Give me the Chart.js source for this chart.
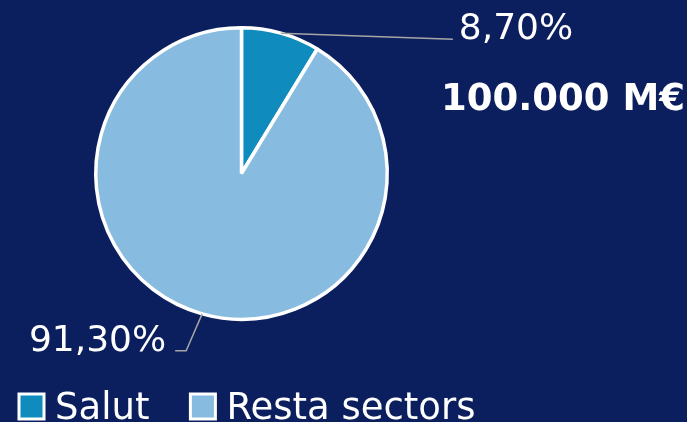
<!DOCTYPE html>
<html>
<head>
<meta charset="utf-8">
<script src="https://cdn.jsdelivr.net/npm/chart.js@4"></script>
<style>
  html, body { margin: 0; padding: 0; background: #0b1f5e; }
  #wrap { width: 687px; height: 422px; position: relative; }
</style>
</head>
<body>
<div id="wrap"><canvas id="chart_salutPie"></canvas></div>
<script>
var categories = ['Salut', 'Resta sectors'];
var shares = [8.70, 91.30];
var shareLabels = ['8,70%', '91,30%'];
var totalLabel = '100.000 M€';
var sliceColours = ['#0f8bbd', '#88bbe0'];

var FONT = '"DejaVu Sans", sans-serif';

var chart_salutPie = new Chart(document.getElementById('chart_salutPie'), {
    type: 'pie',
    data: {
        labels: categories,
        datasets: [{
            data: shares,
            backgroundColor: sliceColours,
            borderColor: '#ffffff',
            borderWidth: 3.5
        }]
    },
    options: {
        animation: false,
        responsive: true,
        maintainAspectRatio: false,
        layout: {
            padding: { left: 94, right: 298, top: 26, bottom: 101 }
        },
        plugins: {
            legend: { display: false },
            tooltip: { enabled: false }
        }
    },
    plugins: [{
        id: 'customPlugin',
        beforeDraw: (chart) => {
            const ctx = chart.ctx;
            ctx.save();
            ctx.fillStyle = '#0b1f5e';
            ctx.fillRect(0, 0, chart.width, chart.height);
            ctx.restore();
        },
        afterDraw: (chart) => {
            const ctx = chart.ctx;
            const arcs = chart.getDatasetMeta(0).data;
            ctx.save();
            ctx.font = '36px ' + FONT;
            ctx.fillStyle = '#ffffff';
            ctx.textBaseline = 'alphabetic';
            arcs.forEach((arc, i) => {
                const mid = (arc.startAngle + arc.endAngle) / 2;
                const r = arc.outerRadius;
                const ex = arc.x + Math.cos(mid) * r;
                const ey = arc.y + Math.sin(mid) * r;
                ctx.strokeStyle = '#a6a6a6';
                ctx.lineWidth = 1.5;
                ctx.beginPath();
                ctx.moveTo(ex, ey);
                if (i === 0) {
                    // near-horizontal leader out to the right
                    const endX = ex + 172, endY = ey + 6;
                    ctx.lineTo(endX, endY);
                    ctx.stroke();
                    ctx.textAlign = 'left';
                    ctx.fillText(shareLabels[i], endX + 6, endY);
                } else {
                    const elX = ex - 16, elY = ey + 37;
                    ctx.lineTo(elX, elY);
                    ctx.lineTo(elX - 11, elY);
                    ctx.stroke();
                    ctx.textAlign = 'right';
                    ctx.fillText(shareLabels[i], elX - 20, elY);
                }
            });

            // total
            ctx.textAlign = 'left';
            ctx.font = 'bold 37px ' + FONT;
            ctx.fillText(totalLabel, 441, 110);

            // legend
            ctx.font = '37px ' + FONT;
            let x = 19;
            categories.forEach((name, i) => {
                ctx.fillStyle = sliceColours[i];
                ctx.fillRect(x, 394, 25, 25);
                ctx.strokeStyle = '#ffffff';
                ctx.lineWidth = 3;
                ctx.strokeRect(x, 394, 25, 25);
                ctx.fillStyle = '#ffffff';
                ctx.fillText(name, x + 36, 419);
                x += 36 + ctx.measureText(name).width + 41;
            });
            ctx.restore();
        }
    }]
});
</script>
</body>
</html>
